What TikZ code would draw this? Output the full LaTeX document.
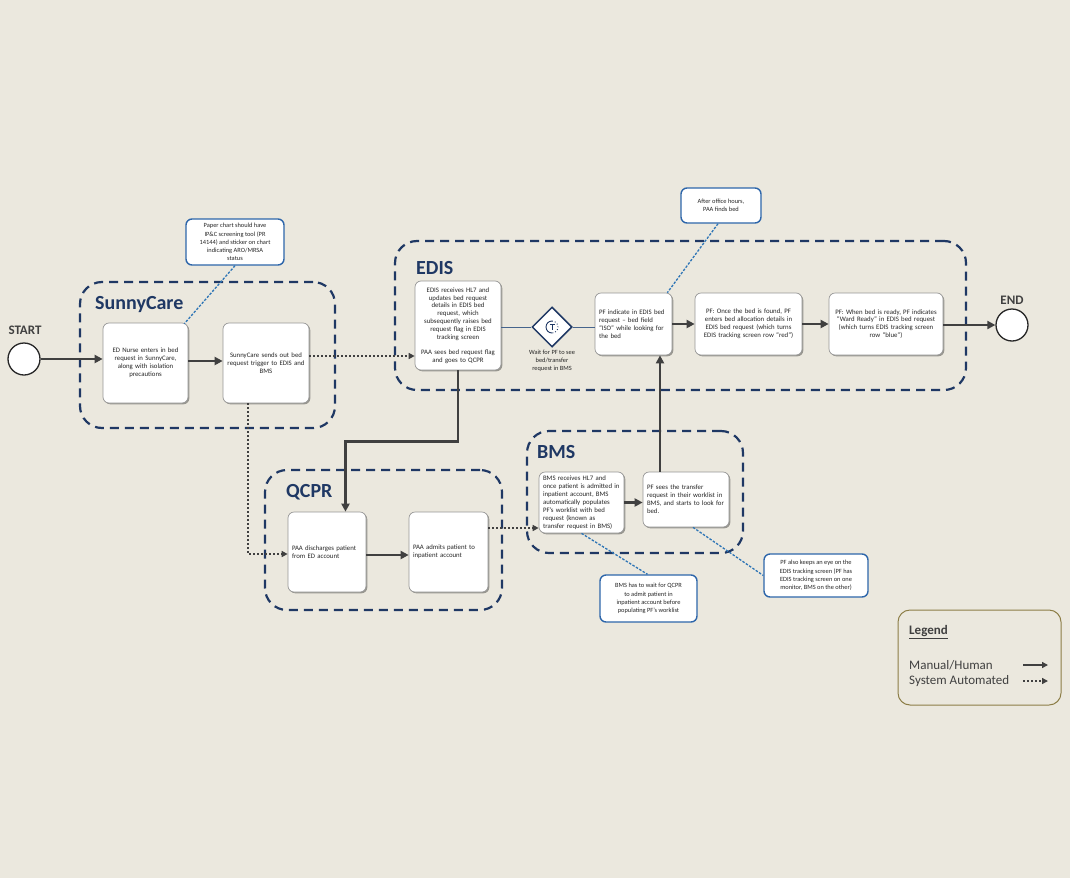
\documentclass[tikz,border=0pt]{standalone}
\usepackage{fontspec}
\setmainfont{Carlito}
\usetikzlibrary{arrows.meta,shadows,shapes.geometric,calc}
\definecolor{bg}{RGB}{235,232,222}
\definecolor{grpblue}{RGB}{31,56,100}
\definecolor{calblue}{RGB}{46,102,170}
\definecolor{linkblue}{RGB}{46,117,182}
\definecolor{arrowgray}{RGB}{64,64,64}
\definecolor{boxgray}{RGB}{150,150,150}
\definecolor{txtgray}{RGB}{38,38,38}
\definecolor{legolive}{RGB}{140,125,70}
\definecolor{thinblue}{RGB}{70,100,140}
\newcommand\bxfont{\fontsize{6.8}{7.9}\selectfont}
\newcommand\clfont{\fontsize{6.4}{8.2}\selectfont}
\begin{document}
\begin{tikzpicture}[x=1pt,y=-1pt,
  grp/.style={draw=grpblue, line width=2.2pt, dash pattern=on 9pt off 6pt, rounded corners=22pt, inner sep=0pt},
  ttl/.style={font=\fontsize{20}{22}\selectfont\bfseries, text=grpblue, anchor=west, inner sep=0pt},
  box/.style={draw=boxgray, fill=white, rounded corners=6pt, line width=0.7pt,
    drop shadow={shadow xshift=1.3pt, shadow yshift=-1.3pt, opacity=0.35, fill=black},
    font=\bxfont, text=txtgray, inner xsep=4pt, inner ysep=2pt, align=center},
  lbox/.style={box, align=left},
  call/.style={draw=calblue, line width=1.4pt, fill=white, rounded corners=6pt, font=\clfont, text=txtgray, align=center, inner sep=2pt},
  link/.style={draw=linkblue, line width=1.3pt, dash pattern=on 2.5pt off 1.5pt},
  manarrow/.style={draw=arrowgray, line width=2.8pt, -{Triangle[length=8pt,width=8pt]}},
  sysarrow/.style={draw=arrowgray, line width=1.6pt, dash pattern=on 1.6pt off 2.4pt, -{Triangle[length=6pt,width=6pt]}},
  term/.style={circle, draw=black!85, line width=1.3pt, fill=white, minimum size=32pt, inner sep=0pt},
  termlbl/.style={font=\fontsize{13}{15}\selectfont\bfseries, text=arrowgray, inner sep=0pt},
  dia/.style={diamond, draw=grpblue, line width=1.5pt, fill=white, minimum width=40pt, minimum height=40pt, inner sep=0pt},
  lbl/.style={font=\clfont, text=txtgray, align=center, inner sep=0pt},
  legtxt/.style={font=\fontsize{13}{15.7}\selectfont, text=arrowgray, anchor=west, inner sep=0pt}
]
\fill[bg] (0,0) rectangle (1070,878);
\useasboundingbox (0,0) rectangle (1070,878);

% groups
\node[grp, minimum width=255pt, minimum height=146pt] (gSC) at (207.5,355) {};
\node[grp, minimum width=571pt, minimum height=149pt] (gED) at (680.5,315.5) {};
\node[grp, minimum width=237pt, minimum height=140pt] (gQC) at (383.5,540) {};
\node[grp, minimum width=216pt, minimum height=122pt] (gBM) at (635,492) {};
\node[ttl] (tSC) at (95,305) {SunnyCare};
\node[ttl] (tED) at (416,268) {EDIS};
\node[ttl] (tQC) at (286,492) {QCPR};
\node[ttl] (tBM) at (537,452) {BMS};

% terminals
\node[term] (start) at (24,359) {};
\node[termlbl] (startlbl) at (25,330) {START};
\node[term] (end) at (1012,325) {};
\node[termlbl] (endlbl) at (1012,300) {END};

% SunnyCare
\node[box, minimum height=80pt, text width=77pt] (b1) at (145.5,363) {ED Nurse enters in bed\\request in SunnyCare,\\along with isolation\\precautions};
\node[box, minimum height=80pt, text width=78pt] (b2) at (266,363) {SunnyCare sends out bed\\request trigger to EDIS and\\BMS};
\node[call, minimum width=98pt, minimum height=46pt] (c1) at (235,242) {Paper chart should have\\IP\&C screening tool (PR\\14144) and sticker on chart\\indicating ARO/MRSA\\status};

% EDIS
\node[box, minimum height=89pt, text width=78pt] (e1) at (458,325.5) {EDIS receives HL7 and\\updates bed request\\details in EDIS bed\\request, which\\subsequently raises bed\\request flag in EDIS\\tracking screen\\[7pt]PAA sees bed request flag\\and goes to QCPR};
\node[dia] (dia) at (552,327) {};
\node[lbl] (dlbl) at (552,361) {Wait for PF to see\\bed/transfer\\request in BMS};
\node[lbox, minimum height=62pt, text width=69pt] (p1) at (633.5,324) {PF indicate in EDIS bed\\request -- bed field\\“ISO” while looking for\\the bed};
\node[box, minimum height=62pt, text width=99pt] (p2) at (748.5,324) {PF: Once the bed is found, PF\\enters bed allocation details in\\EDIS bed request (which turns\\EDIS tracking screen row “red”)};
\node[box, minimum height=62pt, text width=106pt] (p3) at (886,324) {PF: When bed is ready, PF indicates\\“Ward Ready” in EDIS bed request\\(which turns EDIS tracking screen\\row “blue”)};
\node[call, minimum width=80pt, minimum height=35pt] (c2) at (721,205.5) {After office hours,\\PAA finds bed};

% QCPR
\node[lbox, minimum height=80pt, text width=70pt] (q1) at (327,552) {PAA discharges patient\\from ED account};
\node[lbox, minimum height=80pt, text width=71pt] (q2) at (448.5,552) {PAA admits patient to\\inpatient account};

% BMS
\node[lbox, minimum height=61pt, text width=77pt] (m1) at (581.5,502.5) {BMS receives HL7 and\\once patient is admitted in\\inpatient account, BMS\\automatically populates\\PF’s worklist with bed\\request (known as\\transfer request in BMS)};
\node[lbox, minimum height=55pt, text width=78pt] (m2) at (686,499.5) {PF sees the transfer\\request in their worklist in\\BMS, and starts to look for\\bed.};
\node[call, minimum width=97pt, minimum height=47pt] (c3) at (648.5,598.5) {BMS has to wait for QCPR\\to admit patient in\\inpatient account before\\populating PF’s worklist};
\node[call, minimum width=104pt, minimum height=43pt] (c4) at (816,575.5) {PF also keeps an eye on the\\EDIS tracking screen (PF has\\EDIS tracking screen on one\\monitor, BMS on the other)};

% clock icon
\draw[line width=0.9pt, grpblue] ($(dia)+(0,6)$) arc[start angle=90, end angle=270, radius=6];
\draw[line width=0.9pt, grpblue, dotted] ($(dia)+(0,-6)$) arc[start angle=270, end angle=450, radius=6];
\draw[line width=0.9pt, grpblue] ($(dia)+(-2.5,-3)$) -- ($(dia)+(2.5,-3)$);
\draw[line width=0.9pt, grpblue] ($(dia)+(0,-3)$) -- ($(dia)+(0,3)$);

% connectors
\draw[manarrow] (start.east) -- (start.east -| b1.west);
\draw[manarrow] ([yshift=2pt]b1.east) -- ([yshift=2pt]b1.east -| b2.west);
\draw[sysarrow] ([yshift=7pt]b2.east) -- ([yshift=7pt]b2.east -| e1.west);
\draw[sysarrow] ([xshift=-18pt]b2.south) |- ([yshift=-2pt]q1.west);
\draw[thinblue, line width=1pt] (e1.east |- dia) -- (dia.west);
\draw[thinblue, line width=1pt] (dia.east) -- (dia -| p1.west);
\draw[manarrow] (p1.east) -- (p2.west);
\draw[manarrow] (p2.east) -- (p3.west);
\draw[manarrow] (p3.east |- end) -- (end.west);
\draw[manarrow] (e1.south) -- ++(0,71) -| ([xshift=18.5pt]q1.north);
\draw[manarrow] ([yshift=-3pt]q1.east) -- ([yshift=-3pt]q1.east -| q2.west);
\draw[sysarrow] ([yshift=24pt]q2.east) -- ([yshift=24pt]q2.east -| m1.west);
\draw[manarrow] (m1.east) -- (m1.east -| m2.west);
\draw[manarrow] ([xshift=-26pt]m2.north) -- ([xshift=-26pt]m2.north |- p1.south);

% callout links
\draw[link] (c1.south) -- ([xshift=-4pt,yshift=-1pt]b1.north east);
\draw[link] ([xshift=-3pt]c2.south) -- ([xshift=-5pt]p1.north east);
\draw[link] (m1.south) -- ([xshift=-1pt]c3.north);
\draw[link] ([xshift=7pt]m2.south) -- (c4.west);

% legend
\node[draw=legolive, line width=1pt, rounded corners=12pt, minimum width=163pt, minimum height=95pt, inner sep=0pt] (leg) at (979.5,657.5) {};
\node[legtxt, font=\fontsize{13}{15.7}\selectfont\bfseries] (legt) at (909,632) {\underline{Legend}};
\node[legtxt] (legm) at (909,665) {Manual/Human};
\node[legtxt] (legs) at (909,681) {System Automated};
\coordinate (lm1) at (1023,665);
\coordinate (lm2) at (1048,665);
\coordinate (ls1) at (1023,681);
\coordinate (ls2) at (1048,681);
\draw[draw=arrowgray, line width=1.6pt, -{Triangle[length=6pt,width=6pt]}] (lm1) -- (lm2);
\draw[draw=arrowgray, line width=1.6pt, dash pattern=on 1.6pt off 2.4pt, -{Triangle[length=6pt,width=6pt]}] (ls1) -- (ls2);
\end{tikzpicture}
\end{document}
